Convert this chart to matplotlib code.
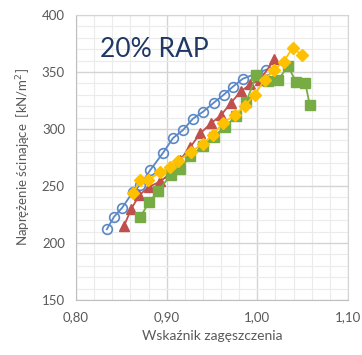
import matplotlib
matplotlib.use("Agg")
import matplotlib.pyplot as plt
from matplotlib.ticker import MultipleLocator, FuncFormatter

plt.rcParams['font.family'] = ['Lato', 'DejaVu Sans']

# Data
blue_x = [0.834, 0.842, 0.851, 0.863, 0.871, 0.882, 0.896, 0.907, 0.918, 0.929, 0.940, 0.952, 0.963, 0.973, 0.984, 1.010]
blue_y = [212, 223, 231, 245, 251, 264, 279, 292, 299, 309, 315, 323, 330, 337, 344, 352]

red_x = [0.853, 0.861, 0.870, 0.880, 0.893, 0.904, 0.915, 0.926, 0.937, 0.949, 0.960, 0.971, 0.982, 0.992, 1.003, 1.019]
red_y = [215, 230, 242, 249, 254, 261, 273, 284, 296, 305, 312, 323, 333, 339, 343, 361]

yellow_x = [0.863, 0.871, 0.879, 0.893, 0.904, 0.913, 0.927, 0.940, 0.951, 0.962, 0.975, 0.986, 0.997, 1.008, 1.019, 1.029, 1.039, 1.049]
yellow_y = [244, 255, 255, 262, 267, 272, 280, 287, 295, 305, 312, 320, 330, 343, 352, 359, 371, 365]

green_x = [0.871, 0.881, 0.891, 0.905, 0.915, 0.926, 0.940, 0.952, 0.964, 0.977, 0.988, 0.999, 1.012, 1.023, 1.034, 1.043, 1.053, 1.058]
green_y = [223, 236, 246, 260, 265, 276, 285, 293, 302, 311, 324, 347, 342, 343, 355, 341, 340, 321]

x_ticks = [0.80, 0.90, 1.00, 1.10]
y_ticks = [150, 200, 250, 300, 350, 400]

fig = plt.figure(figsize=(3.62, 3.55), dpi=100)
ax = fig.add_axes([0.21, 0.155, 0.751, 0.803])

ax.plot(blue_x, blue_y, color='#5A87C5', lw=1.3, marker='o', ms=7,
        mfc='none', mec='#5A87C5', mew=1.2, zorder=3)
ax.plot(red_x, red_y, color='#C0504D', lw=1.3, marker='^', ms=7,
        mfc='#C0504D', mec='#C0504D', zorder=4)
ax.plot(green_x, green_y, color='#77AB43', lw=1.3, marker='s', ms=7,
        mfc='#77AB43', mec='#77AB43', zorder=4)
ax.plot(yellow_x, yellow_y, color='#FFC000', lw=1.3, marker='D', ms=6.5,
        mfc='#FFC000', mec='#FFC000', zorder=5)

ax.set_xlim(0.80, 1.10)
ax.set_ylim(150, 400)
ax.set_xticks(x_ticks)
ax.set_yticks(y_ticks)
ax.xaxis.set_major_formatter(FuncFormatter(lambda v, p: f"{v:.2f}".replace('.', ',')))
ax.xaxis.set_minor_locator(MultipleLocator(0.02))
ax.yaxis.set_minor_locator(MultipleLocator(10))
ax.grid(which='major', color='#D4D4D4', lw=1.0)
ax.grid(which='minor', color='#EBEBEB', lw=0.8)
ax.set_axisbelow(True)
ax.tick_params(which='both', length=0, labelsize=9.5, colors='#595959', pad=8)
for s in ax.spines.values():
    s.set_color('#D4D4D4')
ax.spines['left'].set_color('#BFBFBF')
ax.spines['bottom'].set_color('#BFBFBF')

ax.set_xlabel('Wskaźnik zagęszczenia', fontsize=10, color='#595959', labelpad=5)
ax.set_ylabel('Naprężenie ścinające  [kN/m$^2$]', fontsize=9.5, color='#595959', labelpad=6)

ax.text(0.09, 0.88, '20% RAP', transform=ax.transAxes, fontsize=19,
        color='#1F3864', ha='left', va='center')

fig.savefig('out.png', dpi=100)
